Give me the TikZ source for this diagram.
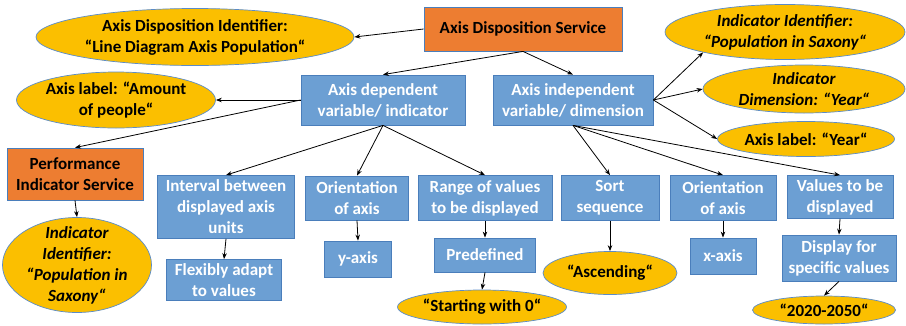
\documentclass[tikz,border=0pt]{standalone}
\usepackage{fontspec}
\setmainfont{Carlito}
\usetikzlibrary{shapes.geometric,arrows.meta}

\definecolor{orfill}{HTML}{ED7D31}
\definecolor{blfill}{HTML}{6C9FD3}
\definecolor{ylfill}{HTML}{FBBF00}
\definecolor{boxline}{HTML}{4A7EBB}
\definecolor{ovline}{HTML}{5B8CC8}

\tikzset{
  base/.style={font=\fontsize{17}{21}\selectfont\bfseries, align=center, inner sep=0pt},
  orangebox/.style={base, rectangle, draw=boxline, line width=0.8pt, fill=orfill, text=black},
  bluebox/.style={base, rectangle, draw=boxline, line width=0.8pt, fill=blfill, text=white},
  oval/.style={base, ellipse, inner sep=-12pt, draw=ovline, line width=0.7pt, fill=ylfill, text=black},
  arr/.style={-{Stealth[length=6pt,width=4.5pt]}, line width=0.8pt, black},
}

\begin{document}
\begin{tikzpicture}[x=1pt,y=-1pt]
\useasboundingbox (0,0) rectangle (906,325);

% services
\node[orangebox, minimum width=198, minimum height=44] (ads) at (523,29) {Axis Disposition Service};
\node[orangebox, minimum width=136, minimum height=52] (pis) at (75,174) {Performance\\Indicator Service};

% axis variables
\node[bluebox, minimum width=164, minimum height=50] (dep) at (383,100) {Axis dependent\\variable/ indicator};
\node[bluebox, minimum width=160, minimum height=50] (indep) at (573,100) {Axis independent\\variable/ dimension};

% attributes of the dependent axis
\node[bluebox, minimum width=137, minimum height=63] (interval) at (226,207) {Interval between\\displayed axis\\units};
\node[bluebox, minimum width=115, minimum height=41] (flex) at (224,280) {Flexibly adapt\\to values};
\node[bluebox, minimum width=103, minimum height=44] (ori1) at (357,198) {Orientation\\of axis};
\node[bluebox, minimum width=67, minimum height=36] (yaxis) at (358,259) {y-axis};
\node[bluebox, minimum width=134, minimum height=45] (range) at (485,198) {Range of values\\to be displayed};
\node[bluebox, minimum width=101, minimum height=34] (predef) at (485,255) {Predefined};

% attributes of the independent axis
\node[bluebox, minimum width=98, minimum height=45] (sort) at (610,198) {Sort\\sequence};
\node[bluebox, minimum width=106, minimum height=45] (ori2) at (723,198) {Orientation\\of axis};
\node[bluebox, minimum width=66, minimum height=36] (xaxis) at (723,256) {x-axis};
\node[bluebox, minimum width=106, minimum height=43] (values) at (840,197) {Values to be\\displayed};
\node[bluebox, minimum width=114, minimum height=46] (display) at (839,258) {Display for\\specific values};

% values
\node[oval, minimum width=318, minimum height=57] (adi) at (195,37) {Axis Disposition Identifier:\\“Line Diagram Axis Population“};
\node[oval, minimum width=199, minimum height=56] (amount) at (116,100) {Axis label: “Amount\\of people“};
\node[oval, minimum width=149, minimum height=95, font=\fontsize{17}{21}\selectfont\bfseries\itshape] (iidl) at (77,265) {Indicator\\Identifier:\\“Population in\\Saxony“};
\node[oval, minimum width=169, minimum height=34] (start) at (482,307) {“Starting with 0“};
\node[oval, minimum width=134, minimum height=43] (asc) at (610,273) {“Ascending“};
\node[oval, minimum width=143, minimum height=28] (yrs) at (824,310) {“2020-2050“};
\node[oval, minimum width=240, minimum height=55, font=\fontsize{17}{21}\selectfont\bfseries\itshape] (iidr) at (785,32) {Indicator Identifier:\\“Population in Saxony“};
\node[oval, minimum width=202, minimum height=48, font=\fontsize{17}{21}\selectfont\bfseries\itshape] (idim) at (804,89) {Indicator\\Dimension: “Year“};
\node[oval, minimum width=177, minimum height=35] (ayear) at (806,139) {Axis label: “Year“};

% connectors
\draw[arr] (ads.west) -- (adi.east);
\draw[arr] (ads.south) -- (dep.north);
\draw[arr] (ads.south) -- (indep.north);
\draw[arr] (dep.west) -- (amount.east);
\draw[arr] (dep.west) -- (pis.north);
\draw[arr] (pis.south) -- (iidl.north);
\draw[arr] (dep.south) -- (interval.north);
\draw[arr] (dep.south) -- (ori1.north);
\draw[arr] (dep.south) -- (range.north);
\draw[arr] (interval.south) -- (flex.north);
\draw[arr] (ori1.south) -- (yaxis.north);
\draw[arr] (range.south) -- (predef.north);
\draw[arr] (predef.south) -- (start.north);
\draw[arr] (indep.south) -- (sort.north);
\draw[arr] (indep.south) -- (ori2.north);
\draw[arr] (indep.south) -- (values.north);
\draw[arr] (sort.south) -- (asc.north);
\draw[arr] (ori2.south) -- (xaxis.north);
\draw[arr] (values.south) -- (display.north);
\draw[arr] (display.south) -- (yrs.north);
\draw[arr] (indep.east) -- (iidr.194);
\draw[arr] (indep.east) -- (idim.west);
\draw[arr] (indep.east) -- (ayear.west);
\end{tikzpicture}
\end{document}
